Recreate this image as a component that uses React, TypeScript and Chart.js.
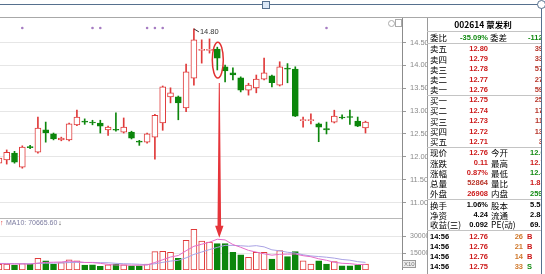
import React, { useEffect, useRef } from 'react';
import { Chart, registerables } from 'chart.js';

Chart.register(...registerables);

// ---------- data ----------
const candleIndex = [-1, 0, 1, 2, 3, 4, 5, 6, 7, 8, 9, 10, 11, 12, 13, 14, 15, 16, 17, 18, 19, 20, 21, 22, 23, 24, 25, 26, 27, 28, 29, 30, 31, 32, 33, 34, 35, 36, 37, 38, 39, 40, 41, 42, 43, 44, 45, 46];
const opens = [11.86, 11.93, 12.08, 11.77, 12.22, 12.10, 12.59, 12.50, 12.37, 12.37, 12.70, 12.77, 12.75, 12.74, 12.59, 12.59, 12.54, 12.54, 12.33, 12.32, 12.43, 12.74, 13.31, 13.31, 13.07, 13.72, 14.33, 14.33, 14.36, 13.97, 13.84, 13.73, 13.46, 13.51, 13.70, 13.77, 13.57, 13.93, 13.92, 12.79, 12.79, 12.72, 12.62, 12.76, 12.86, 12.88, 12.78, 12.63];
const highs = [12.00, 12.15, 12.12, 12.24, 12.25, 12.87, 12.76, 12.52, 12.43, 12.74, 13.02, 12.83, 12.80, 12.80, 12.67, 12.96, 12.85, 12.56, 12.36, 12.52, 12.93, 13.55, 13.51, 13.33, 14.03, 14.80, 14.56, 14.58, 14.40, 14.01, 13.95, 13.75, 13.61, 13.79, 14.16, 13.79, 14.08, 14.04, 13.97, 12.87, 12.94, 12.74, 12.76, 13.02, 12.92, 13.02, 12.87, 12.78];
const lows = [11.83, 11.84, 11.86, 11.75, 12.18, 12.08, 12.32, 12.37, 12.35, 12.35, 12.68, 12.71, 12.70, 12.52, 12.47, 12.56, 12.52, 12.39, 12.25, 12.30, 11.95, 12.58, 13.18, 12.81, 12.99, 13.57, 14.05, 14.27, 13.90, 13.64, 13.68, 13.42, 13.35, 13.40, 13.68, 13.53, 13.55, 13.62, 12.88, 12.65, 12.72, 12.33, 12.50, 12.74, 12.83, 12.71, 12.66, 12.52];
const closes = [11.97, 12.10, 11.88, 12.21, 12.20, 12.63, 12.52, 12.39, 12.41, 12.72, 12.87, 12.76, 12.74, 12.67, 12.65, 12.58, 12.65, 12.41, 12.32, 12.50, 12.91, 13.53, 13.40, 13.18, 13.86, 14.56, 14.35, 14.34, 14.16, 13.88, 13.79, 13.46, 13.57, 13.70, 13.84, 13.62, 13.97, 13.92, 12.89, 12.81, 12.80, 12.65, 12.59, 12.89, 12.85, 12.86, 12.67, 12.76];
const volumes = [5000, 5180, 4270, 5730, 5180, 10270, 8180, 5180, 6640, 9090, 8180, 4270, 4550, 3360, 4550, 5180, 4550, 3640, 3640, 5180, 16360, 16640, 15730, 10270, 26360, 36090, 25730, 24820, 23360, 23360, 15730, 13360, 11180, 15730, 15730, 9730, 17270, 11820, 16360, 8180, 5180, 8180, 5180, 7550, 3640, 3640, 4270, 5180];
const volMA5 = [5600, 5500, 5300, 5400, 5200, 6130, 6730, 6910, 7090, 7870, 7450, 6670, 6550, 5890, 4980, 4380, 4440, 4260, 4310, 4440, 6670, 9090, 11510, 12840, 17070, 21020, 22840, 24650, 27270, 26670, 22600, 20130, 17400, 15870, 14350, 13150, 13930, 14060, 14180, 12670, 11760, 9940, 8620, 6850, 5950, 5640, 4860, 4860];
const volMA10 = [5800, 5800, 5700, 5600, 5600, 5800, 6000, 6100, 6300, 6600, 6790, 6700, 6730, 6490, 6430, 5920, 5560, 5410, 5100, 4710, 5530, 6770, 7890, 8580, 10760, 13850, 15970, 18080, 20060, 21870, 21810, 21490, 21030, 21570, 20510, 17880, 17030, 15730, 15030, 13510, 12460, 11940, 11340, 10520, 9310, 8700, 7400, 6740];
const priceTicks = [11.0, 11.5, 12.0, 12.5, 13.0, 13.5, 14.0, 14.5];
const volumeTicks = [15000, 30000];
const infoMarks = [2, 11, 12, 18, 19, 20, 41];
const peakIndex = 24;
const peakLabel = '14.80';
const highlightIndex = 27;
const maLabel = 'MA10: 70665.60';

// right panel data
const stockTitle = '002614 蒙发利';
const ratioRow = ['委比', '-35.09%', '委差', '-112'];
const bookLabels = ['卖五', '卖四', '卖三', '卖二', '卖一', '买一', '买二', '买三', '买四', '买五'];
const bookPrices = ['12.80', '12.79', '12.78', '12.77', '12.76', '12.75', '12.74', '12.73', '12.72', '12.71'];
const bookVolumes = ['39', '33', '57', '27', '59', '25', '17', '11', '13', '3'];
const statLabelsA = ['现价', '涨跌', '涨幅', '总量', '外盘'];
const statValuesA = ['12.76', '0.11', '0.87%', '52864', '26908'];
const statLabelsB = ['今开', '最高', '最低', '量比', '内盘'];
const statValuesB = ['12.6', '12.7', '12.4', '1.8', '2595'];
const statColorsB = ['g', 'r', 'g', 'r', 'g'];
const infoLabelsA = ['换手', '净资', '收益(三)'];
const infoValuesA = ['1.06%', '4.24', '0.092'];
const infoLabelsB = ['股本', '流通', 'PE(动)'];
const infoValuesB = ['5.55', '2.84', '69.'];
const tradeTimes = ['14:56', '14:56', '14:56', '14:56'];
const tradePrices = ['12.76', '12.76', '12.76', '12.75'];
const tradeVolumes = ['26', '21', '14', '33'];
const tradeSides = ['B', 'B', 'B', 'S'];

const RED = '#e03a3a';
const GREEN = '#0c860c';
const TXT_RED = '#cc1a1a';
const TXT_GREEN = '#128a12';

const annotPlugin = {
  id: 'annot',
  afterDatasetsDraw(chart: any) {
    const { ctx, chartArea, scales } = chart;
    const x = scales.x, y = scales.y, yv = scales.yv;
    ctx.save();
    // volume panel separator
    ctx.strokeStyle = '#b8b8b8';
    ctx.lineWidth = 1;
    ctx.beginPath();
    ctx.moveTo(chartArea.left, Math.round(yv.top) + 0.5);
    ctx.lineTo(chartArea.right, Math.round(yv.top) + 0.5);
    ctx.stroke();

    // info markers
    ctx.fillStyle = '#a67cc2';
    infoMarks.forEach((i) => {
      const px = x.getPixelForValue(i);
      ctx.beginPath();
      ctx.arc(px, y.top + 11, 1.3, 0, Math.PI * 2);
      ctx.fill();
    });

    // peak label
    const pk = candleIndex.indexOf(peakIndex);
    const ppx = x.getPixelForValue(peakIndex);
    const ppy = y.getPixelForValue(highs[pk]);
    ctx.strokeStyle = '#333';
    ctx.beginPath();
    ctx.moveTo(ppx, ppy);
    ctx.lineTo(ppx + 5, ppy + 3);
    ctx.stroke();
    ctx.fillStyle = '#333';
    ctx.font = '7.5px "Liberation Sans", Arial, sans-serif';
    ctx.textBaseline = 'middle';
    ctx.fillText(peakLabel, ppx + 6, ppy + 3.5);

    // highlight ellipse + arrow
    const hk = candleIndex.indexOf(highlightIndex);
    const hx = x.getPixelForValue(highlightIndex);
    const top = y.getPixelForValue(highs[hk]);
    const bot = y.getPixelForValue(lows[hk]);
    const cy = (top + bot) / 2 + 1.5;
    const ry = (bot - top) / 2 + 6.5;
    ctx.strokeStyle = '#e23030';
    ctx.lineWidth = 1.5;
    ctx.beginPath();
    ctx.ellipse(hx + 0.5, cy, 5.5, ry, 0, 0, Math.PI * 2);
    ctx.stroke();

    const ax = hx + 2;
    const aTop = cy + ry + 5;
    const tip = yv.getPixelForValue(volumes[hk]) - 6;
    const headTop = tip - 12;
    ctx.fillStyle = '#e6343a';
    ctx.beginPath();
    ctx.moveTo(ax - 0.5, aTop);
    ctx.lineTo(ax + 0.5, aTop);
    ctx.lineTo(ax + 1.8, headTop);
    ctx.lineTo(ax + 4.2, headTop);
    ctx.lineTo(ax, tip);
    ctx.lineTo(ax - 4.2, headTop);
    ctx.lineTo(ax - 1.8, headTop);
    ctx.closePath();
    ctx.fill();

    // MA label
    ctx.font = '7px "Liberation Sans", Arial, sans-serif';
    ctx.fillStyle = '#e03030';
    ctx.fillText('↑', chartArea.left, yv.top + 5.5);
    ctx.fillStyle = '#7c7ca0';
    ctx.fillText(maLabel, chartArea.left + 6, yv.top + 5.5);
    const w = ctx.measureText(maLabel).width;
    ctx.fillStyle = '#333';
    ctx.fillText('↓', chartArea.left + 7 + w, yv.top + 5.5);

    // x10 box
    const bx = chartArea.right, by = yv.bottom - 10;
    ctx.fillStyle = '#eeeeee';
    ctx.fillRect(bx, by, 14, 8);
    ctx.strokeStyle = '#999';
    ctx.lineWidth = 1;
    ctx.strokeRect(bx + 0.5, by + 0.5, 13, 7);
    ctx.fillStyle = '#777';
    ctx.font = '6px "Liberation Sans", Arial, sans-serif';
    ctx.fillText('X10', bx + 2, by + 4.5);
    ctx.restore();
  },
};

function Txt(props: { x: number; y: number; text: string; color?: string; align?: 'left' | 'right' | 'center'; size?: number; cjk?: boolean; bold?: boolean }) {
  const { x, y, text, color = '#000', align = 'left', size = 8, cjk = false, bold = false } = props;
  const style: any = {
    position: 'absolute',
    top: y - size / 2 - 1,
    height: size + 2,
    lineHeight: size + 2 + 'px',
    fontSize: size,
    color,
    whiteSpace: 'nowrap',
    fontFamily: cjk ? '"Noto Sans CJK SC", sans-serif' : '"Liberation Sans", Arial, sans-serif',
    fontWeight: bold ? 700 : 400,
  };
  if (align === 'right') {
    style.left = x - 80;
    style.width = 80;
    style.textAlign = 'right';
  } else if (align === 'center') {
    style.left = x - 60;
    style.width = 120;
    style.textAlign = 'center';
  } else {
    style.left = x;
  }
  return <div style={style}>{text}</div>;
}

function HLine({ y, x1 = 427, x2 = 541, color = '#c4c4c4' }: { y: number; x1?: number; x2?: number; color?: string }) {
  return <div style={{ position: 'absolute', left: x1, top: y, width: x2 - x1, height: 1, background: color }} />;
}

const noPad = (axis: any) => {
  axis.width = 25;
  axis.paddingTop = 0;
  axis.paddingBottom = 0;
};

export default function App() {
  const ref = useRef<HTMLCanvasElement>(null);
  useEffect(() => {
    document.body.style.margin = '0';
    const up = candleIndex.map((_, k) => closes[k] >= opens[k]);
    const col = up.map((u) => (u ? RED : GREEN));
    const fill = up.map((u) => (u ? '#ffffff' : GREEN));
    const chart = new Chart(ref.current as HTMLCanvasElement, {
      type: 'bar',
      data: {
        datasets: [
          {
            type: 'line',
            label: 'MA5',
            data: candleIndex.map((x, k) => ({ x, y: volMA5[k] })),
            borderColor: '#e46cc8',
            borderWidth: 1,
            pointRadius: 0,
            yAxisID: 'yv',
            order: 0,
          } as any,
          {
            type: 'line',
            label: 'MA10',
            data: candleIndex.map((x, k) => ({ x, y: volMA10[k] })),
            borderColor: '#a9a2e4',
            borderWidth: 1,
            pointRadius: 0,
            yAxisID: 'yv',
            order: 0,
          } as any,
          {
            type: 'bar',
            label: 'body',
            data: candleIndex.map((x, k) => ({ x, y: [opens[k], closes[k]] })),
            backgroundColor: fill,
            borderColor: col,
            borderWidth: 1,
            borderSkipped: false,
            barThickness: 6,
            minBarLength: 1,
            grouped: false,
            yAxisID: 'y',
            order: 1,
          } as any,
          {
            type: 'bar',
            label: 'wick',
            data: candleIndex.map((x, k) => ({ x, y: [lows[k], highs[k]] })),
            backgroundColor: col,
            borderWidth: 0,
            barThickness: 1,
            grouped: false,
            yAxisID: 'y',
            order: 2,
          } as any,
          {
            type: 'bar',
            label: 'volume',
            data: candleIndex.map((x, k) => ({ x, y: volumes[k] })),
            backgroundColor: fill,
            borderColor: col,
            borderWidth: 1,
            borderSkipped: false,
            barThickness: 6,
            grouped: false,
            yAxisID: 'yv',
            order: 3,
          } as any,
        ],
      },
      options: {
        animation: false,
        responsive: false,
        devicePixelRatio: 1,
        events: [],
        layout: { padding: 0 },
        plugins: { legend: { display: false }, tooltip: { enabled: false } },
        scales: {
          x: { type: 'linear', min: -0.86, max: 50.68, offset: false, display: false },
          y: {
            type: 'linear',
            position: 'right',
            stack: 'panes',
            stackWeight: 201,
            weight: 1,
            min: 10.66,
            max: 15.06,
            afterBuildTicks: (axis: any) => {
              axis.ticks = priceTicks.map((v) => ({ value: v }));
            },
            afterFit: noPad,
            ticks: {
              autoSkip: false,
              padding: 4,
              color: '#8a8a8a',
              font: { size: 7.5, family: '"Liberation Sans", Arial, sans-serif' },
              callback: (v: any) => Number(v).toFixed(2),
            },
            grid: { color: '#e6e6e6', tickLength: 4, tickColor: '#999' },
            border: { color: '#8c8c8c' },
          },
          yv: {
            type: 'linear',
            position: 'right',
            stack: 'panes',
            stackWeight: 52,
            weight: 2,
            min: 0,
            max: 46100,
            afterBuildTicks: (axis: any) => {
              axis.ticks = volumeTicks.map((v) => ({ value: v }));
            },
            afterFit: noPad,
            ticks: {
              autoSkip: false,
              padding: 4,
              color: '#8a8a8a',
              font: { size: 7, family: '"Liberation Sans", Arial, sans-serif' },
              callback: (v: any) => String(v),
            },
            grid: { color: '#e6e6e6', tickLength: 4, tickColor: '#999' },
            border: { color: '#8c8c8c' },
          },
        } as any,
      },
      plugins: [annotPlugin],
    });
    return () => chart.destroy();
  }, []);

  const bookY = [48.5, 58.8, 69.1, 79.4, 89.7, 100.2, 110.6, 121.0, 131.3, 141.6];
  const statY = [152.6, 162.8, 173.0, 183.2, 193.4];
  const infoY = [205.2, 214.8, 224.4];
  const tradeY = [237.2, 246.9, 256.6, 266.3];

  return (
    <div style={{ position: 'fixed', left: 0, top: 0, width: 545, height: 274, background: '#fff', overflow: 'hidden' }}>
      <canvas ref={ref} width={427} height={253} style={{ position: 'absolute', left: 0, top: 17, width: 427, height: 253 }} />
      {/* right panel background */}
      <div style={{ position: 'absolute', left: 427, top: 17, width: 114, height: 257, background: '#fff', borderLeft: '1px solid #9a9a9a' }} />
      {/* chart top border */}
      <HLine y={17} x1={0} x2={541} color="#a8a8a8" />
      {/* icons top right of chart */}
      <div style={{ position: 'absolute', left: 388, top: 20, width: 5, height: 5, border: '1px solid #aaa', borderRadius: '50%' }} />
      <div style={{ position: 'absolute', left: 395, top: 19, width: 5, height: 6, border: '1px solid #aaa' }} />
      {/* panel text (clipped at frame) */}
      <div style={{ position: 'absolute', left: 0, top: 0, width: 541, height: 274, overflow: 'hidden' }}>
        <HLine y={31} />
        <HLine y={43} />
        <HLine y={94.5} />
        <HLine y={146.5} />
        <HLine y={199} />
        <HLine y={230} />
        <Txt x={483} y={24.5} text={stockTitle} align="center" size={8.5} cjk bold />
        <Txt x={430} y={37.5} text={ratioRow[0]} cjk size={8.5} />
        <Txt x={488} y={37.5} text={ratioRow[1]} align="right" color={TXT_GREEN} bold size={7.5} />
        <Txt x={490} y={37.5} text={ratioRow[2]} cjk size={8.5} />
        <Txt x={528} y={37.5} text={ratioRow[3]} color={TXT_GREEN} bold size={7.5} />
        {bookLabels.map((l, k) => (
          <React.Fragment key={'b' + k}>
            <Txt x={430} y={bookY[k]} text={l} cjk size={8.5} />
            <Txt x={488} y={bookY[k]} text={bookPrices[k]} align="right" color={TXT_RED} bold size={7.5} />
            <Txt x={543} y={bookY[k]} text={bookVolumes[k]} align="right" color="#b8352a" bold size={7.5} />
          </React.Fragment>
        ))}
        {statLabelsA.map((l, k) => (
          <React.Fragment key={'s' + k}>
            <Txt x={430} y={statY[k]} text={l} cjk size={8.5} />
            <Txt x={488} y={statY[k]} text={statValuesA[k]} align="right" color={k === 3 ? '#b8352a' : TXT_RED} bold size={7.5} />
            <Txt x={491} y={statY[k]} text={statLabelsB[k]} cjk size={8.5} />
            <Txt x={530} y={statY[k]} text={statValuesB[k]} color={statColorsB[k] === 'g' ? TXT_GREEN : TXT_RED} bold size={7.5} />
          </React.Fragment>
        ))}
        {infoLabelsA.map((l, k) => (
          <React.Fragment key={'i' + k}>
            <Txt x={430} y={infoY[k]} text={l} cjk size={8.5} />
            <Txt x={488} y={infoY[k]} text={infoValuesA[k]} align="right" bold size={7.5} />
            <Txt x={491} y={infoY[k]} text={infoLabelsB[k]} cjk size={8.5} />
            <Txt x={530} y={infoY[k]} text={infoValuesB[k]} bold size={7.5} />
          </React.Fragment>
        ))}
        {tradeTimes.map((t, k) => (
          <React.Fragment key={'t' + k}>
            <Txt x={430} y={tradeY[k]} text={t} bold size={7.5} />
            <Txt x={488} y={tradeY[k]} text={tradePrices[k]} align="right" color={TXT_RED} bold size={7.5} />
            <Txt x={523} y={tradeY[k]} text={tradeVolumes[k]} align="right" color="#d0782a" bold size={7.5} />
            <Txt x={527} y={tradeY[k]} text={tradeSides[k]} color={tradeSides[k] === 'B' ? TXT_RED : TXT_GREEN} bold size={7.5} />
          </React.Fragment>
        ))}
      </div>
      {/* selection frame */}
      <div style={{ position: 'absolute', left: 0, top: 4, width: 541, height: 1, background: '#56708e' }} />
      <div style={{ position: 'absolute', left: 541, top: 4, width: 1, height: 270, background: '#56708e' }} />
      <div style={{ position: 'absolute', left: 262, top: 1, width: 6, height: 6, background: '#dce8f6', border: '1px solid #56708e' }} />
      <div style={{ position: 'absolute', left: 537, top: 0, width: 7, height: 7, background: '#fff', border: '1px solid #56708e', borderRadius: '50%' }} />
    </div>
  );
}
